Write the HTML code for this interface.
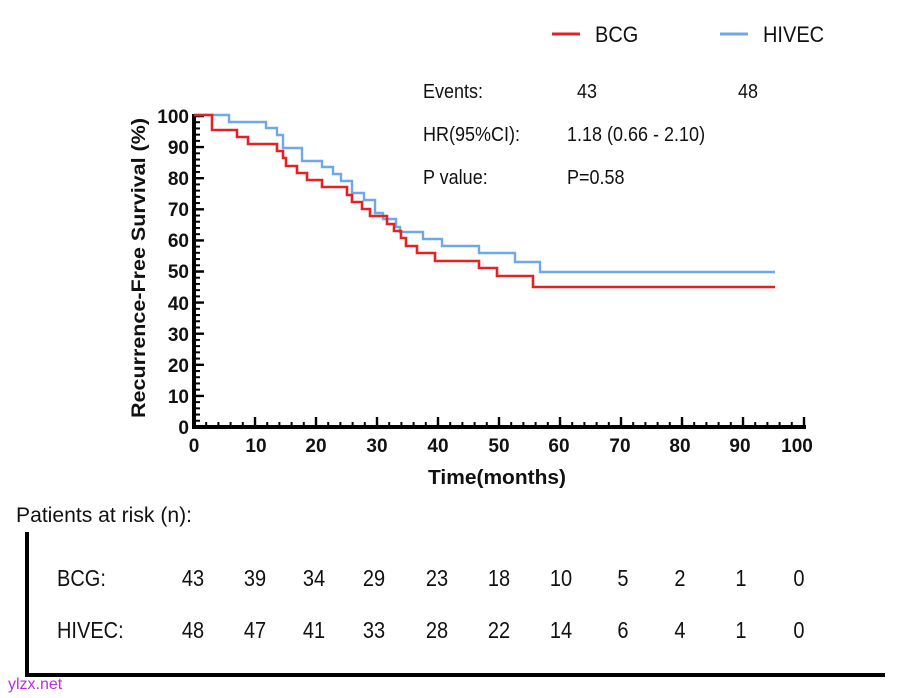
<!DOCTYPE html>
<html>
<head>
<meta charset="utf-8">
<style>
  html,body{margin:0;padding:0;background:#fff;}
  svg{display:block;}
  text{font-family:"Liberation Sans",Arial,sans-serif;}
</style>
</head>
<body>
<svg width="904" height="698" viewBox="0 0 904 698" xmlns="http://www.w3.org/2000/svg">
  <defs>
    <pattern id="ytk" patternUnits="userSpaceOnUse" x="0" y="426" width="20" height="6.22">
      <rect x="0" y="0" width="20" height="2" fill="#000"/>
    </pattern>
    <pattern id="xtk" patternUnits="userSpaceOnUse" x="193" y="0" width="12.2" height="20">
      <rect x="0" y="0" width="2" height="20" fill="#000"/>
    </pattern>
  </defs>
  <rect width="904" height="698" fill="#fff"/>

  <!-- Legend -->
  <line x1="552" y1="34" x2="580" y2="34" stroke="#e02424" stroke-width="3"/>
  <g transform="translate(0,42) scale(1,1.1)">
    <text x="595" y="0" font-size="20" fill="#111">BCG</text>
    <text x="763" y="0" font-size="20" fill="#111">HIVEC</text>
  </g>
  <line x1="720" y1="34" x2="748" y2="34" stroke="#6fa8e6" stroke-width="3"/>

  <!-- Stats -->
  <g font-size="18" fill="#111">
    <g transform="translate(0,98) scale(1,1.12)">
      <text x="423" y="0">Events:</text>
      <text x="577" y="0">43</text>
      <text x="738" y="0">48</text>
    </g>
    <g transform="translate(0,141) scale(1,1.12)">
      <text x="423" y="0">HR(95%CI):</text>
      <text x="567" y="0">1.18 (0.66 - 2.10)</text>
    </g>
    <g transform="translate(0,184) scale(1,1.12)">
      <text x="423" y="0">P value:</text>
      <text x="567" y="0">P=0.58</text>
    </g>
  </g>

  <!-- Y axis minor ticks -->
  <rect x="194" y="115" width="6" height="313" fill="url(#ytk)"/>
  <!-- X axis minor ticks -->
  <rect x="194" y="422" width="612" height="5" fill="url(#xtk)"/>

  <!-- Major ticks -->
  <path d="M194 427H204M194 395.9H204M194 364.8H204M194 333.7H204M194 302.6H204M194 271.5H204M194 240.4H204M194 209.3H204M194 178.2H204M194 147.1H204M194 116H204" stroke="#000" stroke-width="2.4" fill="none"/>
  <path d="M194 427V417M255 427V417M316 427V417M377 427V417M438 427V417M499 427V417M560 427V417M621 427V417M682 427V417M743 427V417M804 427V417" stroke="#000" stroke-width="2.4" fill="none"/>

  <!-- Axis lines -->
  <rect x="192" y="114" width="4" height="315" fill="#000"/>
  <rect x="192" y="425" width="614" height="4" fill="#000"/>

  <!-- Y labels -->
  <g font-size="19" font-weight="bold" text-anchor="end" fill="#111">
    <text x="189" y="434">0</text>
    <text x="189" y="403">10</text>
    <text x="189" y="372">20</text>
    <text x="189" y="341">30</text>
    <text x="189" y="310">40</text>
    <text x="189" y="278">50</text>
    <text x="189" y="247">60</text>
    <text x="189" y="216">70</text>
    <text x="189" y="185">80</text>
    <text x="189" y="154">90</text>
    <text x="189" y="123">100</text>
  </g>

  <!-- X labels -->
  <g font-size="19" font-weight="bold" text-anchor="middle" fill="#111">
    <text x="194" y="452">0</text>
    <text x="256" y="452">10</text>
    <text x="316" y="452">20</text>
    <text x="377" y="452">30</text>
    <text x="438" y="452">40</text>
    <text x="499" y="452">50</text>
    <text x="559" y="452">60</text>
    <text x="620" y="452">70</text>
    <text x="680" y="452">80</text>
    <text x="740" y="452">90</text>
    <text x="797" y="452">100</text>
  </g>

  <text x="497" y="484" font-size="20" font-weight="bold" text-anchor="middle" textLength="138" lengthAdjust="spacingAndGlyphs" fill="#111">Time(months)</text>
  <text transform="translate(145,268) rotate(-90)" font-size="19" font-weight="bold" text-anchor="middle" textLength="300" lengthAdjust="spacingAndGlyphs" fill="#111">Recurrence-Free Survival (%)</text>

  <!-- Curves -->
  <path d="M194 115H229V122H266V128H277V135H283V148H302V161H322V167H333V174H341V181H352V193H364V200H375V213H383V219H396V227H400V232H423V239H442V246H479V253H515V262H540V272H775" stroke="#6fa8e6" stroke-width="2.4" fill="none"/>
  <path d="M194 115H212V130H237V137H248V144H277V151H283V158H286V166H297V173H307V180H322V187H347V195H352V202H362V209H370V216H387V224H394V231H401V238H406V246H417V253H435V261H479V268H497V276H533V287H775" stroke="#e02424" stroke-width="2.6" fill="none"/>

  <!-- Risk table -->
  <g transform="translate(0,522) scale(1,1.12)">
    <text x="16" y="0" font-size="19" fill="#111" textLength="176" lengthAdjust="spacingAndGlyphs">Patients at risk (n):</text>
  </g>
  <rect x="25" y="532" width="4" height="145" fill="#000"/>
  <rect x="25" y="673" width="860" height="4" fill="#000"/>

  <g font-size="20" fill="#111" transform="translate(0,586) scale(1,1.14)">
    <text x="57" y="0">BCG:</text>
    <g text-anchor="middle">
      <text x="193" y="0">43</text>
      <text x="255" y="0">39</text>
      <text x="314" y="0">34</text>
      <text x="374" y="0">29</text>
      <text x="437" y="0">23</text>
      <text x="499" y="0">18</text>
      <text x="561" y="0">10</text>
      <text x="623" y="0">5</text>
      <text x="680" y="0">2</text>
      <text x="741" y="0">1</text>
      <text x="799" y="0">0</text>
    </g>
  </g>
  <g font-size="20" fill="#111" transform="translate(0,638) scale(1,1.14)">
    <text x="57" y="0">HIVEC:</text>
    <g text-anchor="middle">
      <text x="193" y="0">48</text>
      <text x="255" y="0">47</text>
      <text x="314" y="0">41</text>
      <text x="374" y="0">33</text>
      <text x="437" y="0">28</text>
      <text x="499" y="0">22</text>
      <text x="561" y="0">14</text>
      <text x="623" y="0">6</text>
      <text x="680" y="0">4</text>
      <text x="741" y="0">1</text>
      <text x="799" y="0">0</text>
    </g>
  </g>

  <text x="8" y="689" font-size="16" fill="#b82ee0">ylzx.net</text>
</svg>
</body>
</html>
